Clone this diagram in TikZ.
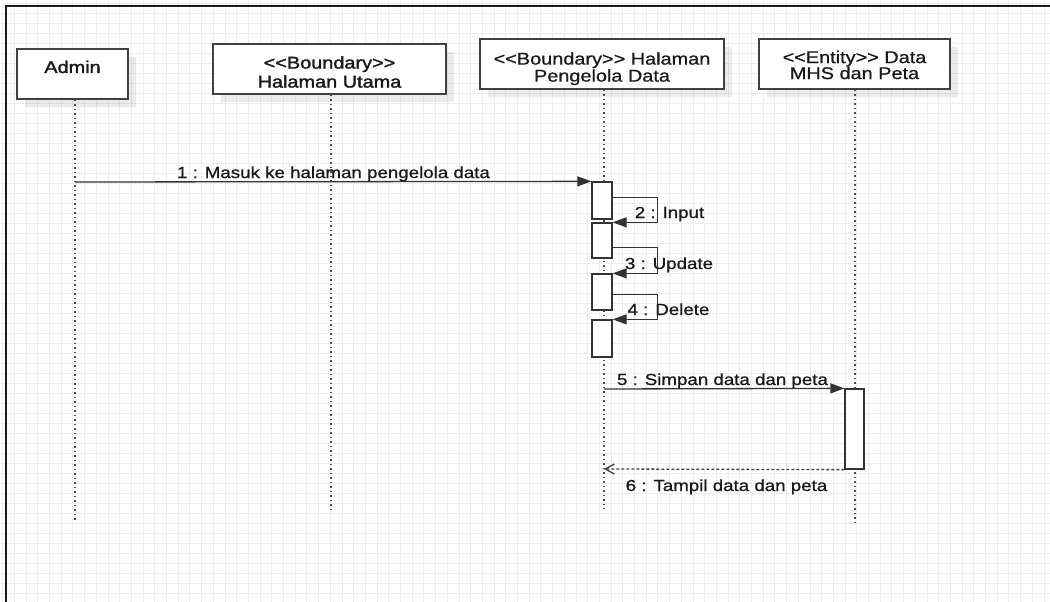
\documentclass[tikz,border=0pt]{standalone}
\usepackage{graphicx}
\usepackage{fontspec}
\newfontfamily\plainfont{Liberation Sans}
\newfontfamily\heavyfont{Liberation Sans}[FakeBold=1.6]
\newfontfamily\medfont{Liberation Sans}[FakeBold=0.7]
\usetikzlibrary{arrows.meta,shadows}
\newcommand{\hstretch}[1]{\scalebox{1.17}[1]{#1}}
\begin{document}
\begin{tikzpicture}[x=1pt,y=-1pt,
  font=\plainfont\fontsize{16}{18}\selectfont,
  gridline/.style={draw=black!7, line width=0.6pt},
  hdr/.style={draw=black!75, line width=1.3pt, fill=white, inner sep=0pt, minimum height=50pt,
    drop shadow={shadow xshift=8pt, shadow yshift=-8pt, fill=black, opacity=0.08}},
  htext/.style={inner sep=0pt, text=black!90, align=center},
  life/.style={draw=black!70, line width=1.5pt, dash pattern=on 1.5pt off 3pt},
  act/.style={draw=black!80, line width=1.3pt, fill=white, minimum width=20pt, inner sep=0pt},
  msg/.style={draw=black!80, line width=1.3pt, -{Triangle[length=14pt,width=10pt]}},
  ret/.style={draw=black!75, line width=1.3pt, dash pattern=on 3pt off 2pt, -{Straight Barb[length=9pt,width=10pt]}},
  mlabel/.style={anchor=base, inner sep=0pt, text=black!90, font=\medfont\fontsize{16}{18}\selectfont},
]
\useasboundingbox (0,0) rectangle (1050,602);
\fill[white] (0,0) rectangle (1050,602);
% grid
\foreach \i in {0,...,90} \draw[gridline] ({2.5+\i*11.7},0) -- ({2.5+\i*11.7},602);
\foreach \j in {0,...,60} \draw[gridline] (0,{3.3+\j*10}) -- (1050,{3.3+\j*10});
% frame
\draw[black!90, line width=2pt] (6,602) -- (6,6) -- (1050,6);

% header boxes
\node[hdr, minimum width=111pt] (admin) at (72.5,74) {};
\node[hdr, minimum width=233pt] (utama) at (329.5,69) {};
\node[hdr, minimum width=244pt] (peng) at (602,64) {};
\node[hdr, minimum width=191pt] (ent) at (854.5,64) {};

\node[htext, anchor=base, font=\heavyfont\fontsize{17}{19}\selectfont] (admintxt) at (72.5,73) {\hstretch{Admin}};
\node[htext, font=\heavyfont\fontsize{17}{19}\selectfont] (utamatxt) at (329.5,72) {\hstretch{<<Boundary>>}\\\hstretch{Halaman Utama}};
\node[htext, font=\medfont\fontsize{17}{17}\selectfont] (pengtxt) at (602,68.7) {\hstretch{<<Boundary>> Halaman}\\\hstretch{Pengelola Data}};
\node[htext, font=\medfont\fontsize{17}{16}\selectfont] (enttxt) at (854.5,65) {\hstretch{<<Entity>> Data}\\\hstretch{MHS dan Peta}};

% lifelines
\coordinate (adminEnd) at (75,520);
\coordinate (utamaEnd) at (331,513);
\coordinate (pengEnd) at (604,509);
\coordinate (entEnd) at (855,525);
\draw[life] (admin.south -| adminEnd) -- (adminEnd);
\draw[life] (utama.south -| utamaEnd) -- (utamaEnd);
\draw[life] (peng.south -| pengEnd) -- (pengEnd);
\draw[life] (ent.south -| entEnd) -- (entEnd);

% activations
\node[act, minimum height=37pt] (act1) at (602,200.5) {};
\node[act, minimum height=35pt] (act2) at (602,240.5) {};
\node[act, minimum height=36pt] (act3) at (602,292) {};
\node[act, minimum height=37pt] (act4) at (602,338.5) {};
\node[act, minimum width=19pt, minimum height=80pt] (act5) at (854.5,429) {};

% messages
\coordinate (m1s) at (75,182);
\coordinate (m5s) at (604,389);
\coordinate (m6e) at (604,469);
\draw[msg] (m1s) -- (act1.north west);
\draw[msg] ([yshift=-16pt]act1.north east) -- ++(45,0) |- (act2.north east);
\draw[msg] ([yshift=-25pt]act2.north east) -- ++(45,0) |- (act3.north east);
\draw[msg] ([yshift=-21pt]act3.north east) -- ++(45,0) |- (act4.north east);
\draw[msg] (m5s) -- (act5.north west);
\draw[ret] (act5.south west) -- (m6e);

% labels
\node[mlabel] (l1) at (333.5,178) {\hstretch{1 : Masuk ke halaman pengelola data}};
\node[mlabel] (l2) at (669.5,218) {\hstretch{2 : Input}};
\node[mlabel] (l3) at (669,269) {\hstretch{3 : Update}};
\node[mlabel] (l4) at (668.5,315) {\hstretch{4 : Delete}};
\node[mlabel] (l5) at (722.5,385) {\hstretch{5 : Simpan data dan peta}};
\node[mlabel] (l6) at (726.5,491) {\hstretch{6 : Tampil data dan peta}};
\end{tikzpicture}
\end{document}
